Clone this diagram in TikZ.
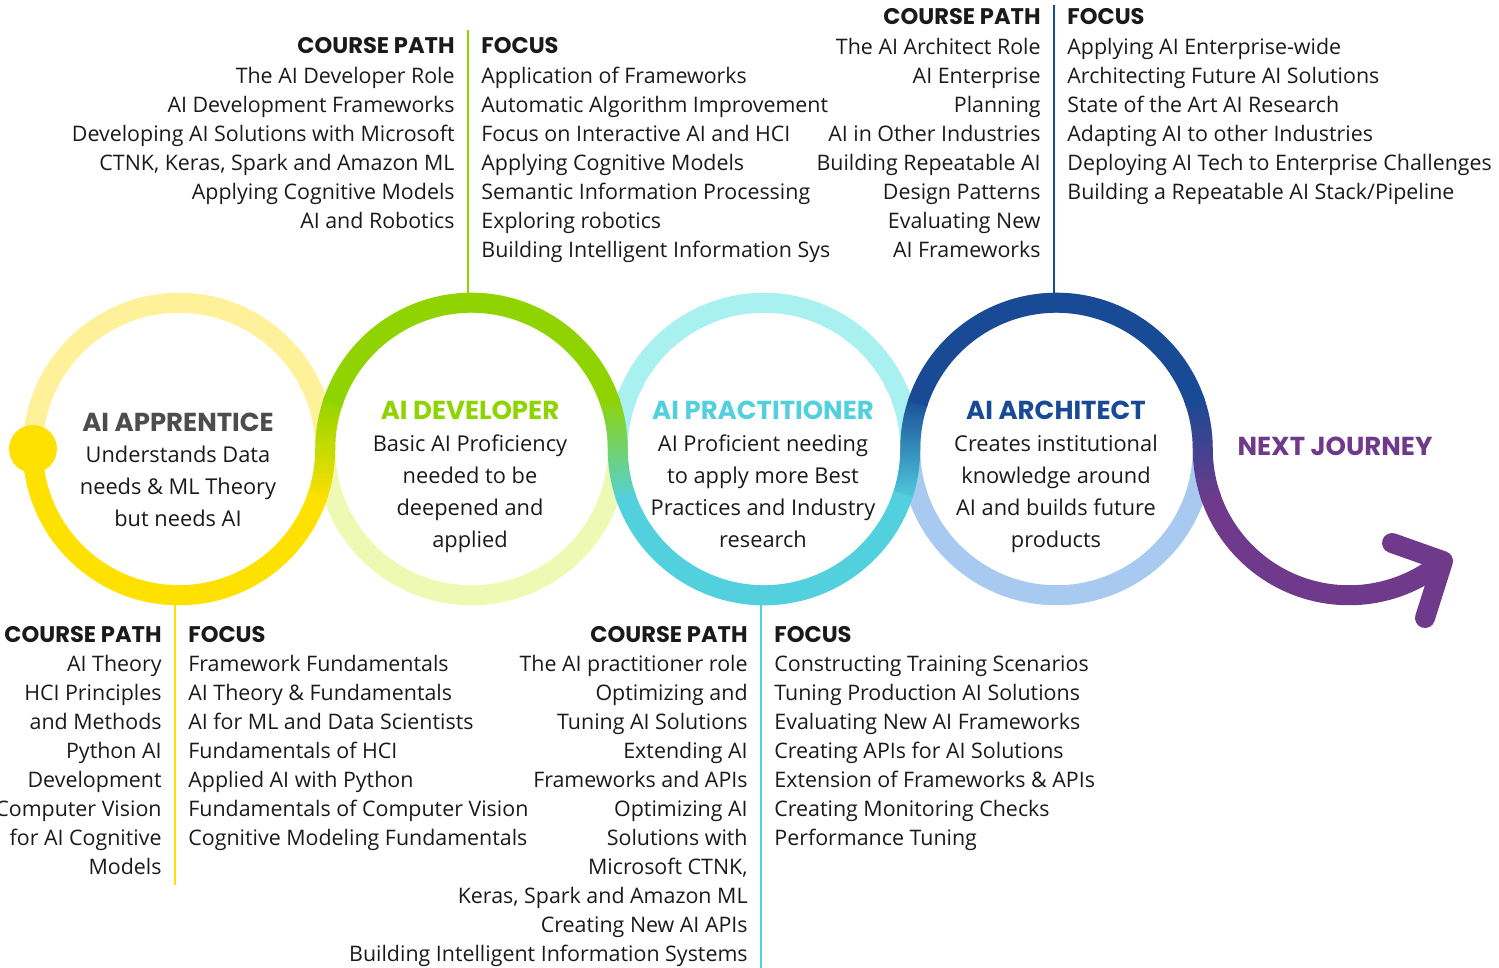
\documentclass[tikz,border=0pt]{standalone}
\usepackage{fontspec}
\setmainfont{Open Sans}
\newfontfamily\headfont{Poppins}
\usepackage{tikz}
\usetikzlibrary{calc,positioning}

\definecolor{yellowA}{HTML}{FFE100}
\definecolor{yellowL}{HTML}{FFF19A}
\definecolor{greenA}{HTML}{8FD400}
\definecolor{greenL}{HTML}{EEFAB4}
\definecolor{cyanA}{HTML}{52D0DE}
\definecolor{cyanL}{HTML}{A8F1F0}
\definecolor{blueA}{HTML}{184A95}
\definecolor{blueL}{HTML}{A8C9F0}
\definecolor{purpleA}{HTML}{6F3A8B}
\definecolor{titlegrey}{HTML}{4D4D4D}
\definecolor{ink}{HTML}{1A1A1A}

\tikzset{
  ring/.style={line width=10pt},
  sepline/.style={line width=1pt},
  itemR/.style={anchor=base east, inner sep=0pt, text=ink, font=\fontsize{10.7}{12}\selectfont},
  itemL/.style={anchor=base west, inner sep=0pt, text=ink, font=\fontsize{10.7}{12}\selectfont},
  headR/.style={itemR, font=\headfont\bfseries\fontsize{11.3}{12}\selectfont},
  headL/.style={itemL, font=\headfont\bfseries\fontsize{11.3}{12}\selectfont},
  stagetitle/.style={anchor=base, inner sep=0pt, font=\headfont\bfseries\fontsize{13}{14}\selectfont},
  stagebody/.style={anchor=north, inner sep=0pt, align=center, text=ink, font=\fontsize{10.9}{16}\selectfont}
}

% shaded band where two rings meet
\newcommand\bandA[4]{% left lower-right into right upper-left
  \shade[top color=#3, bottom color=#4]
    ($(#1)+(-20:156.25)$) arc[start angle=-20, end angle=0, radius=156.25]
    arc[start angle=180, end angle=160, radius=136.25]
    -- ($(#2)+(160:156.25)$) arc[start angle=160, end angle=180, radius=156.25]
    arc[start angle=0, end angle=-20, radius=136.25] -- cycle;}
\newcommand\bandB[4]{% left upper-right into right lower-left
  \shade[top color=#3, bottom color=#4]
    ($(#1)+(20:156.25)$) arc[start angle=20, end angle=0, radius=156.25]
    arc[start angle=180, end angle=200, radius=136.25]
    -- ($(#2)+(200:156.25)$) arc[start angle=200, end angle=180, radius=156.25]
    arc[start angle=0, end angle=20, radius=136.25] -- cycle;}

\begin{document}
\begin{tikzpicture}[x=0.5pt, y=0.5pt]
  \useasboundingbox (0,0) rectangle (1499,-968);

  \coordinate (appC) at (179,-449);
  \coordinate (devC) at (471.5,-449);
  \coordinate (praC) at (764,-449);
  \coordinate (arcC) at (1056.5,-449);
  \coordinate (nxtC) at (1349,-449);

  % pale halves
  \draw[ring, yellowL] (appC) circle[radius=146.25];
  \draw[ring, greenL] (devC) circle[radius=146.25];
  \draw[ring, cyanL] (praC) circle[radius=146.25];
  \draw[ring, blueL] (arcC) circle[radius=146.25];

  \bandA{appC}{devC}{greenA}{yellowA}
  \bandB{devC}{praC}{greenA}{cyanA}
  \bandA{praC}{arcC}{blueA}{cyanA}
  \bandB{arcC}{nxtC}{blueA}{purpleA}

  % strong halves
  \draw[ring, yellowA] ($(appC)+(180:146.25)$) arc[start angle=180, end angle=342, radius=146.25];
  \draw[ring, greenA] ($(devC)+(162:146.25)$) arc[start angle=162, end angle=18, radius=146.25];
  \draw[ring, cyanA] ($(praC)+(198:146.25)$) arc[start angle=198, end angle=342, radius=146.25];
  \draw[ring, blueA] ($(arcC)+(162:146.25)$) arc[start angle=162, end angle=18, radius=146.25];
  \draw[ring, purpleA] ($(nxtC)+(198:146.25)$) arc[start angle=198, end angle=310, radius=146.25] coordinate (tip);

  \fill[yellowA] (33,-449) circle[radius=24];
  \coordinate (armA) at (1392,-543);
  \coordinate (armB) at (1425,-618);
  \draw[ring, purpleA, line cap=round, line join=round] (armA) -- (tip) -- (armB);

  % stage texts
  \node[stagetitle, titlegrey] (appT) at (178,-431) {AI APPRENTICE};
  \node[stagebody, below=7.5pt of appT.base] (appB) {Understands Data\\needs \& ML Theory\\but needs AI};
  \node[stagetitle, greenA] (devT) at (470,-419.5) {AI DEVELOPER};
  \node[stagebody, below=7.5pt of devT.base] (devB) {Basic AI Proficiency\\needed to be\\deepened and\\applied};
  \node[stagetitle, cyanA] (praT) at (763,-419.5) {AI PRACTITIONER};
  \node[stagebody, below=7.5pt of praT.base] (praB) {AI Proficient needing\\to apply more Best\\Practices and Industry\\research};
  \node[stagetitle, blueA] (arcT) at (1056,-419.5) {AI ARCHITECT};
  \node[stagebody, below=7.5pt of arcT.base] (arcB) {Creates institutional\\knowledge around\\AI and builds future\\products};
  \node[stagetitle, purpleA] (nxtT) at (1335,-455) {NEXT JOURNEY};

  % developer lists (top)
  \coordinate (devTop) at (468,-30);
  \coordinate (devBot) at (468,-293);
  \draw[sepline, greenA] (devTop) -- (devBot);
  \node[headR] (devCP) at (455,-54) {COURSE PATH};
  \node[headL] (devFO) at (481,-54) {FOCUS};
  \foreach \txt [count=\i] in {The AI Developer Role, AI Development Frameworks,
      Developing AI Solutions with Microsoft, {CTNK, Keras, Spark and Amazon ML},
      Applying Cognitive Models, AI and Robotics}
    \node[itemR] (devCP\i) at (455,{-54-29.05*\i}) {\txt};
  \foreach \txt [count=\i] in {Application of Frameworks, Automatic Algorithm Improvement,
      Focus on Interactive AI and HCI, Applying Cognitive Models,
      Semantic Information Processing, Exploring robotics,
      Building Intelligent Information Sys}
    \node[itemL] (devFO\i) at (481,{-54-29.05*\i}) {\txt};

  % architect lists (top)
  \coordinate (arcTop) at (1054,-5);
  \coordinate (arcBot) at (1054,-293);
  \draw[sepline, blueA] (arcTop) -- (arcBot);
  \node[headR] (arcCP) at (1041,-25) {COURSE PATH};
  \node[headL] (arcFO) at (1067,-25) {FOCUS};
  \foreach \txt [count=\i] in {The AI Architect Role, AI Enterprise, Planning,
      AI in Other Industries, Building Repeatable AI, Design Patterns,
      Evaluating New, AI Frameworks}
    \node[itemR] (arcCP\i) at (1041,{-25-29.05*\i}) {\txt};
  \foreach \txt [count=\i] in {Applying AI Enterprise-wide, Architecting Future AI Solutions,
      State of the Art AI Research, Adapting AI to other Industries,
      Deploying AI Tech to Enterprise Challenges, Building a Repeatable AI Stack/Pipeline}
    \node[itemL] (arcFO\i) at (1067,{-25-29.05*\i}) {\txt};

  % apprentice lists (bottom)
  \coordinate (appTop) at (175,-605);
  \coordinate (appBot) at (175,-885);
  \draw[sepline, yellowA] (appTop) -- (appBot);
  \node[headR] (appCP) at (162,-642) {COURSE PATH};
  \node[headL] (appFO) at (188,-642) {FOCUS};
  \foreach \txt [count=\i] in {AI Theory, HCI Principles, and Methods, Python AI,
      Development, Computer Vision, for AI Cognitive, Models}
    \node[itemR] (appCP\i) at (162,{-642-29.05*\i}) {\txt};
  \foreach \txt [count=\i] in {Framework Fundamentals, AI Theory \& Fundamentals,
      AI for ML and Data Scientists, Fundamentals of HCI, Applied AI with Python,
      Fundamentals of Computer Vision, Cognitive Modeling Fundamentals}
    \node[itemL] (appFO\i) at (188,{-642-29.05*\i}) {\txt};

  % practitioner lists (bottom)
  \coordinate (praTop) at (761,-605);
  \coordinate (praBot) at (761,-968);
  \draw[sepline, cyanA] (praTop) -- (praBot);
  \node[headR] (praCP) at (748,-642) {COURSE PATH};
  \node[headL] (praFO) at (774,-642) {FOCUS};
  \foreach \txt [count=\i] in {The AI practitioner role, Optimizing and,
      Tuning AI Solutions, Extending AI, Frameworks and APIs, Optimizing AI,
      Solutions with, {Microsoft CTNK,}, {Keras, Spark and Amazon ML},
      Creating New AI APIs, Building Intelligent Information Systems}
    \node[itemR] (praCP\i) at (748,{-642-29.05*\i}) {\txt};
  \foreach \txt [count=\i] in {Constructing Training Scenarios, Tuning Production AI Solutions,
      Evaluating New AI Frameworks, Creating APIs for AI Solutions,
      Extension of Frameworks \& APIs, Creating Monitoring Checks, Performance Tuning}
    \node[itemL] (praFO\i) at (774,{-642-29.05*\i}) {\txt};
\end{tikzpicture}
\end{document}
